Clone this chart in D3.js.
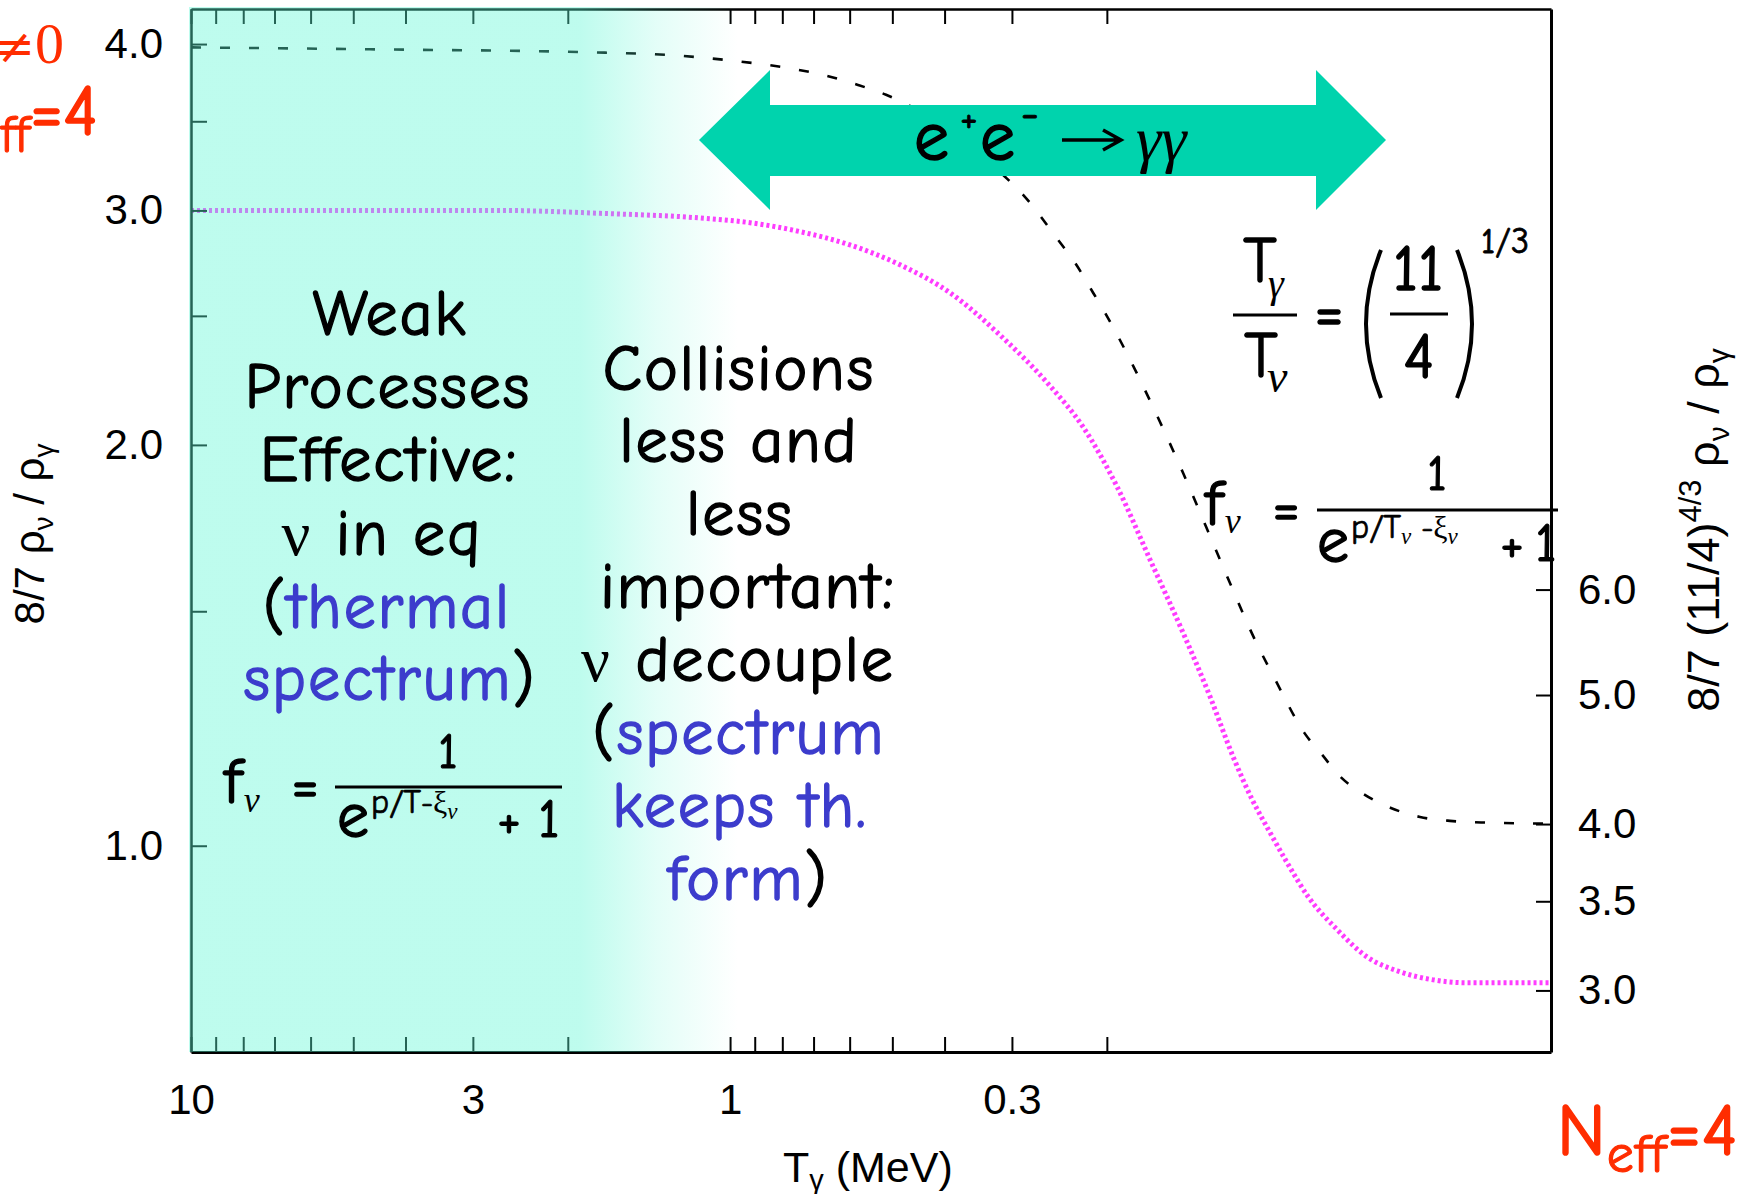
<!DOCTYPE html>
<html><head><meta charset="utf-8">
<script src="https://cdn.jsdelivr.net/npm/d3@7"></script>
<style>body{margin:0;background:#fff;} svg{display:block;}</style>
</head><body>
<svg id="c" width="1753" height="1194"></svg>
<script>
// ---------- data ----------
const xTicks = [10, 9, 8, 7, 6, 5, 4, 3, 2, 1, 0.9, 0.8, 0.7, 0.6, 0.5, 0.4, 0.3, 0.2];
const xTickLabels = [10, 3, 1, 0.3];
const yLeftTicks = [4, 3.5, 3, 2.5, 2, 1.5, 1];
const yLeftTickLabels = [4, 3, 2, 1];
const yRightTicks = [6, 5, 4, 3.5, 3];

// N_eff = 3 curve (magenta dotted): T_gamma (MeV) vs 8/7 rho_nu/rho_gamma
const tempNeff3 = [10, 2.67, 1.742, 1.137, 0.918, 0.742, 0.599, 0.484, 0.391, 0.3156, 0.2548, 0.2214, 0.1914, 0.1663, 0.1444, 0.1287, 0.1166, 0.1075, 0.0996, 0.0926, 0.0847, 0.0748, 0.0658, 0.0571, 0.0496, 0.0429, 0.030];
const ratioNeff3 = [3.000, 3.000, 2.985, 2.961, 2.937, 2.892, 2.826, 2.731, 2.602, 2.418, 2.214, 2.063, 1.860, 1.640, 1.445, 1.294, 1.166, 1.083, 1.023, 0.971, 0.916, 0.865, 0.825, 0.804, 0.793, 0.789, 0.789];

// N_eff = 4 curve (black dashed)
const tempNeff4 = [10, 4.66, 1.706, 1.298, 0.9915, 0.777, 0.672, 0.579, 0.5136, 0.309, 0.286, 0.2463, 0.2291, 0.2121, 0.2015, 0.1780, 0.1600, 0.1444, 0.1309, 0.1186, 0.1080, 0.0970, 0.0861, 0.0797, 0.0738, 0.0669, 0.0596, 0.0525, 0.0462, 0.0401, 0.030];
const ratioNeff4 = [3.977, 3.964, 3.941, 3.925, 3.887, 3.836, 3.792, 3.727, 3.664, 3.180, 3.082, 2.851, 2.740, 2.602, 2.513, 2.285, 2.088, 1.905, 1.736, 1.580, 1.448, 1.328, 1.216, 1.170, 1.127, 1.094, 1.068, 1.051, 1.044, 1.041, 1.039];

const rightFactor = Math.pow(11 / 4, 4 / 3);

// ---------- layout ----------
const L = 191, R = 1551, TOP = 9, BOT = 1052;
const svg = d3.select("#c");
const COMIC = "'Comic Sans MS','Comic Neue',Lato,sans-serif";
const SANS = "'Liberation Sans',Arial,Helvetica,sans-serif";
const SERIF = "'Liberation Serif','Times New Roman',serif";
const BLUE = "#3c3ccc", RED = "#ff2d00", TEAL = "#00d3ad";

const x = d3.scaleLog().domain([10, 0.03]).range([L, R]);
const y = d3.scaleLog().domain([0.70, 4.25]).range([BOT, TOP]);
const yR = d3.scaleLog().domain([0.70 * rightFactor, 4.25 * rightFactor]).range([BOT, TOP]);

svg.append("rect").attr("width", 1753).attr("height", 1194).attr("fill", "#fff");

// ---------- curves ----------
const line = d3.line().x(d => x(d[0])).y(d => y(d[1])).curve(d3.curveMonotoneX);
svg.append("path").datum(tempNeff3.map((t, i) => [t, ratioNeff3[i]]))
  .attr("d", line).attr("fill", "none").attr("stroke", "#ff3cff")
  .attr("stroke-width", 5).attr("stroke-dasharray", "3,3");
svg.append("path").datum(tempNeff4.map((t, i) => [t, ratioNeff4[i]]))
  .attr("d", line).attr("fill", "none").attr("stroke", "#000")
  .attr("stroke-width", 2.6).attr("stroke-dasharray", "10,19");

// ---------- axes ----------
function styleAxis(g, w) {
  g.attr("font-family", SANS).attr("font-size", 42);
  g.select(".domain").attr("stroke", "#000").attr("stroke-width", w);
  g.selectAll(".tick line").attr("stroke", "#000").attr("stroke-width", 2);
  g.selectAll(".tick text").attr("fill", "#000");
}
const gB = svg.append("g").attr("transform", `translate(0,${BOT})`)
  .call(d3.axisBottom(x).tickValues(xTicks).tickSizeInner(-15).tickSizeOuter(0).tickPadding(32)
    .tickFormat(d => xTickLabels.includes(d) ? String(d) : ""));
styleAxis(gB, 3);
const gT = svg.append("g").attr("transform", `translate(0,${TOP})`)
  .call(d3.axisTop(x).tickValues(xTicks).tickSizeInner(-15).tickSizeOuter(0).tickFormat(""));
styleAxis(gT, 2.5);
const gL = svg.append("g").attr("transform", `translate(${L},0)`)
  .call(d3.axisLeft(y).tickValues(yLeftTicks).tickSizeInner(-16).tickSizeOuter(0).tickPadding(28)
    .tickFormat(d => yLeftTickLabels.includes(d) ? d3.format(".1f")(d) : ""));
styleAxis(gL, 2.5);
const gR = svg.append("g").attr("transform", `translate(${R},0)`)
  .call(d3.axisRight(yR).tickValues(yRightTicks).tickSizeInner(-15).tickSizeOuter(0).tickPadding(27)
    .tickFormat(d3.format(".1f")));
styleAxis(gR, 3);

// ---------- cyan fade overlay ----------
const defs = svg.append("defs");
const grad = defs.append("linearGradient").attr("id", "fade")
  .attr("gradientUnits", "userSpaceOnUse").attr("x1", L).attr("x2", 738).attr("y1", 0).attr("y2", 0);
[[0, 0.4], [(580 - L) / (738 - L), 0.4], [0.85, 0.17], [1, 0]].forEach(([o, a]) =>
  grad.append("stop").attr("offset", o).attr("stop-color", "rgb(92,247,212)").attr("stop-opacity", a));
svg.append("rect").attr("x", L - 2).attr("y", TOP - 2).attr("width", R - L + 4).attr("height", BOT - TOP + 2)
  .attr("fill", "url(#fade)");

// ---------- axis titles ----------
const xt = svg.append("text").attr("x", 783).attr("y", 1182).attr("font-family", SANS).attr("font-size", 43);
xt.append("tspan").text("T");
xt.append("tspan").attr("font-size", 29).attr("dy", 8).text("γ");
xt.append("tspan").attr("dy", -8).text(" (MeV)");

const ylt = svg.append("text").attr("transform", "translate(44,534) rotate(-90)")
  .attr("text-anchor", "middle").attr("font-family", SANS).attr("font-size", 42);
ylt.append("tspan").text("8/7 ρ");
ylt.append("tspan").attr("font-size", 28).attr("dy", 9).text("ν");
ylt.append("tspan").attr("dy", -9).text(" / ρ");
ylt.append("tspan").attr("font-size", 28).attr("dy", 9).text("γ");

const yrt = svg.append("text").attr("transform", "translate(1719,530) rotate(-90)")
  .attr("text-anchor", "middle").attr("font-family", SANS).attr("font-size", 45);
yrt.append("tspan").text("8/7 (11/4)");
yrt.append("tspan").attr("font-size", 31).attr("dy", -18).text("4/3");
yrt.append("tspan").attr("dy", 18).text(" ρ");
yrt.append("tspan").attr("font-size", 30).attr("dy", 10).text("ν");
yrt.append("tspan").attr("dy", -10).text(" / ρ");
yrt.append("tspan").attr("font-size", 30).attr("dy", 10).text("γ");

// ---------- double arrow ----------
const ax = [699, 770, 1316, 1386], ay = [70, 105, 140, 176, 210];
svg.append("path").attr("fill", TEAL).attr("d",
  `M${ax[0]},${ay[2]} L${ax[1]},${ay[0]} L${ax[1]},${ay[1]} L${ax[2]},${ay[1]} L${ax[2]},${ay[0]} L${ax[3]},${ay[2]}` +
  ` L${ax[2]},${ay[4]} L${ax[2]},${ay[3]} L${ax[1]},${ay[3]} L${ax[1]},${ay[4]} Z`);

// ---------- text helpers ----------
function heavy(t, size, col) {
  return t.attr("stroke", col).attr("stroke-width", Math.max(0.6, size * 0.022)).attr("stroke-linejoin", "round");
}
// rich text: parts flow one after another; each part {t, f, s, dy, c, i}
function rich(px, py, parts, o = {}) {
  const t = svg.append("text").attr("x", px).attr("y", py)
    .attr("text-anchor", o.a || "start").attr("font-family", COMIC).attr("font-size", o.s || 64);
  if (o.ls) t.attr("letter-spacing", o.ls);
  parts.forEach(p => {
    const sp = t.append("tspan").text(p.t);
    const col = p.c || o.c || "#000";
    const sz = p.s || o.s || 64;
    sp.attr("fill", col);
    if (p.f) sp.attr("font-family", p.f);
    if (p.s) sp.attr("font-size", p.s);
    if (p.dy) sp.attr("dy", p.dy);
    if (p.dx) sp.attr("dx", p.dx);
    if (p.i) sp.attr("font-style", "italic");
    if (!p.f) heavy(sp, sz, col);
  });
  return t;
}
function txt(px, py, s, o = {}) {
  return rich(px, py, [{ t: s, f: o.f, i: o.i }], { s: o.s || 64, a: o.a, c: o.c });
}
function hline(x1, x2, yy, w) {
  svg.append("line").attr("x1", x1).attr("x2", x2).attr("y1", yy).attr("y2", yy)
    .attr("stroke", "#000").attr("stroke-width", w || 3);
}
function block(lines) {
  lines.forEach(([px, py, segs]) => {
    rich(px, py, segs.map(([s, k]) => ({
      t: s, c: k === "b" ? BLUE : "#000", f: k === "nu" ? SERIF : undefined
    })), { a: "middle", s: 64, ls: 2 });
  });
}

// arrow label  e+e- -> gamma gamma
txt(914, 160, "e", { s: 70 });
txt(960, 131, "+", { s: 40 });
txt(980, 160, "e", { s: 70 });
txt(1021, 128, "-", { s: 44 });
svg.append("path").attr("d", "M1062,140 H1119 M1103,130 L1121,140 L1103,150")
  .attr("fill", "none").attr("stroke", "#000").attr("stroke-width", 3.5);
txt(1136, 160, "γγ", { f: SERIF, s: 64, i: true });

// left block
block([
  [390, 335, [["Weak"]]],
  [388, 408, [["Processes"]]],
  [389, 481, [["Effective:"]]],
  [382, 555, [["ν", "nu"], [" in eq"]]],
  [387, 628, [["("], ["thermal", "b"]]],
  [390, 700, [["spectrum", "b"], [")"]]]
]);
// middle block
block([
  [739, 390, [["Collisions"]]],
  [739, 462, [["less and"]]],
  [740, 535, [["less"]]],
  [748, 608, [["important:"]]],
  [738, 681, [["ν", "nu"], [" decouple"]]],
  [739, 754, [["("], ["spectrum", "b"]]],
  [740, 827, [["keeps th.", "b"]]],
  [748, 900, [["form", "b"], [")"]]]
]);

// left formula f_nu = 1/(e^{p/T - xi} + 1)
rich(224, 803, [{ t: "f", s: 64 }, { t: "ν", f: SERIF, s: 36, i: true, dy: 9, dx: 2 }]);
txt(305, 804, "=", { s: 60, a: "middle" });
txt(448, 768, "1", { s: 50, a: "middle" });
hline(335, 562, 787, 3);
rich(337, 837, [
  { t: "e", s: 64 },
  { t: "p/T", s: 34, dy: -24, dx: 2 },
  { t: "-", s: 30 },
  { t: "ξ", f: SERIF, s: 32 },
  { t: "ν", f: SERIF, s: 23, i: true, dy: 6 }
]);
txt(509, 837, "+", { s: 54, a: "middle" });
txt(549, 837, "1", { s: 54, a: "middle" });

// right formula T_gamma/T_nu = (11/4)^{1/3}
txt(1260, 282, "T", { s: 64, a: "middle" });
txt(1268, 297, "γ", { f: SERIF, s: 40, i: true });
hline(1233, 1297, 315, 3);
txt(1261, 377, "T", { s: 64, a: "middle" });
txt(1267, 392, "ν", { f: SERIF, s: 46, i: true });
txt(1329, 333, "=", { s: 64, a: "middle" });
svg.append("path").attr("d", "M1381,250 Q1351,324 1381,398 M1457,250 Q1487,324 1457,398")
  .attr("fill", "none").attr("stroke", "#000").attr("stroke-width", 4);
txt(1418, 290, "11", { s: 64, a: "middle" });
hline(1390, 1448, 314, 3);
txt(1419, 378, "4", { s: 64, a: "middle" });
txt(1481, 253, "1/3", { s: 36 });

// right formula f_nu = 1/(e^{p/T_nu - xi_nu} + 1)
rich(1205, 525, [{ t: "f", s: 64 }, { t: "ν", f: SERIF, s: 36, i: true, dy: 8, dx: 2 }]);
txt(1286, 527, "=", { s: 60, a: "middle" });
txt(1437, 490, "1", { s: 50, a: "middle" });
hline(1317, 1558, 510, 3);
rich(1317, 562, [
  { t: "e", s: 64 },
  { t: "p/T", s: 34, dy: -24, dx: 2 },
  { t: "ν", f: SERIF, s: 23, i: true, dy: 6 },
  { t: " -", s: 30, dy: -6 },
  { t: "ξ", f: SERIF, s: 32 },
  { t: "ν", f: SERIF, s: 23, i: true, dy: 6 }
]);
txt(1512, 561, "+", { s: 54, a: "middle" });
txt(1546, 561, "1", { s: 54, a: "middle" });

// red labels
rich(64, 63, [
  { t: "ξ", f: SERIF, s: 56, i: true },
  { t: "≠", f: "'DejaVu Sans',sans-serif", s: 48 },
  { t: "0", f: SERIF, s: 58 }
], { a: "end", c: RED });
rich(98, 135, [
  { t: "N", s: 72 },
  { t: "eff", s: 52, dy: 17 },
  { t: "=4", s: 72, dy: -17 }
], { a: "end", c: RED });
rich(1557, 1155, [
  { t: "N", s: 74 },
  { t: "eff", s: 54, dy: 17 },
  { t: "=4", s: 74, dy: -17 }
], { c: RED, ls: 1 });
</script>
</body></html>
